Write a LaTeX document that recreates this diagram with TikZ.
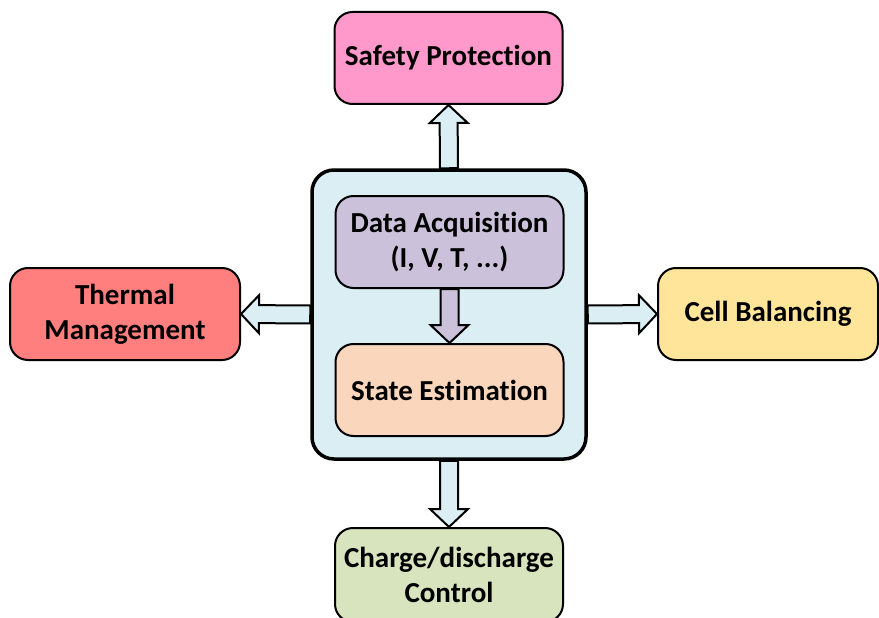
\documentclass[tikz,border=0pt]{standalone}
\usepackage{fontspec}
\setmainfont{Carlito}[Ligatures=NoCommon]
\usetikzlibrary{calc,backgrounds}

\definecolor{safetypink}{HTML}{FF99CC}
\definecolor{thermred}{HTML}{FF7F7F}
\definecolor{balyellow}{HTML}{FFE599}
\definecolor{chggreen}{HTML}{D7E4BD}
\definecolor{datapurple}{HTML}{CCC1DA}
\definecolor{statepeach}{HTML}{FAD7BC}
\definecolor{bmsblue}{HTML}{DBEEF4}

\tikzset{
  block/.style={draw, line width=2pt, rounded corners=18pt, minimum width=228pt,
    minimum height=92pt, inner sep=0pt, align=center,
    font=\fontsize{29}{35}\selectfont\bfseries},
  bigarrow/.style={draw, line width=2pt, line join=miter, fill=#1},
}

% freccia a blocco: colore, partenza, arrivo
\newcommand{\blockarrow}[3]{
  \coordinate (ha) at ($(#3)!18pt!(#2)$);
  \draw[bigarrow=#1] ($(#2)!9pt!90:(#3)$) -- ($(ha)!9pt!90:(#3)$)
    -- ($(ha)!19pt!90:(#3)$) -- (#3) -- ($(ha)!19pt!-90:(#3)$)
    -- ($(ha)!9pt!-90:(#3)$) -- ($(#2)!9pt!-90:(#3)$) -- cycle;
}

\begin{document}
\begin{tikzpicture}[x=1pt, y=-1pt]
    \useasboundingbox (0,0) rectangle (879,618);

    % blocco centrale
    \node[draw, line width=3.5pt, fill=bmsblue, rounded corners=22pt,
      minimum width=274pt, minimum height=289pt] (bms) at (449,314.5) {};
    \node[block, fill=datapurple] (data) at (449.5,242) {Data Acquisition\\(I, V, T, ...)};
    \node[block, fill=statepeach] (state) at (449.5,390) {State Estimation};

    % blocchi esterni
    \node[block, fill=safetypink] (safety) at (448.5,58) {Safety Protection};
    \node[block, fill=thermred, minimum width=230pt] (thermal) at (125,314) {Thermal\\Management};
    \node[block, fill=balyellow, minimum width=220pt] (balance) at (768,314) {Cell Balancing};
    \node[block, fill=chggreen, minimum height=94pt] (charge) at (449,575) {Charge/discharge\\Control};

    % frecce
    \begin{scope}[on background layer]
        \blockarrow{bmsblue}{bms.north}{safety.south}
        \blockarrow{bmsblue}{bms.west}{thermal.east}
        \blockarrow{bmsblue}{bms.east}{balance.west}
        \blockarrow{bmsblue}{bms.south}{charge.north}
    \end{scope}
    \blockarrow{datapurple}{data.south}{state.north}
\end{tikzpicture}
\end{document}
